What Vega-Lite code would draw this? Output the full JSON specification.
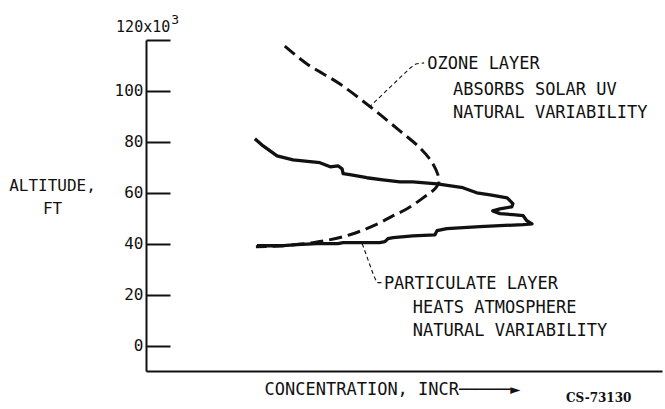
{
  "$schema": "https://vega.github.io/schema/vega-lite/v6.json",
  "width": 516,
  "height": 331,
  "padding": {"left": 146, "top": 40, "right": 3, "bottom": 38},
  "autosize": {"type": "none"},
  "background": "white",
  "config": {"view": {"stroke": null}, "axis": {"domainColor": "#111", "tickColor": "#111", "labelColor": "#111", "titleColor": "#111"}},
  "datasets": {
    "particulate": [
      {"i": 1, "conc": 21.1, "alt": 81.2}, {"i": 2, "conc": 22.7, "alt": 78.4}, {"i": 3, "conc": 25.4, "alt": 74.5},
      {"i": 4, "conc": 28.5, "alt": 72.9}, {"i": 5, "conc": 31.8, "alt": 72.2}, {"i": 6, "conc": 33.7, "alt": 71.8},
      {"i": 7, "conc": 34.7, "alt": 71.0}, {"i": 8, "conc": 35.7, "alt": 70.2}, {"i": 9, "conc": 37.2, "alt": 70.6},
      {"i": 10, "conc": 38.0, "alt": 69.4}, {"i": 11, "conc": 38.2, "alt": 67.5}, {"i": 12, "conc": 39.5, "alt": 67.1},
      {"i": 13, "conc": 42.8, "alt": 65.9}, {"i": 14, "conc": 45.9, "alt": 65.1}, {"i": 15, "conc": 49.2, "alt": 64.3},
      {"i": 16, "conc": 51.7, "alt": 64.3}, {"i": 17, "conc": 56.4, "alt": 63.5}, {"i": 18, "conc": 61.4, "alt": 62.0},
      {"i": 19, "conc": 64.1, "alt": 60.0}, {"i": 20, "conc": 66.7, "alt": 59.2}, {"i": 21, "conc": 70.0, "alt": 58.0},
      {"i": 22, "conc": 71.1, "alt": 55.7}, {"i": 23, "conc": 70.9, "alt": 54.5}, {"i": 24, "conc": 68.6, "alt": 53.7},
      {"i": 25, "conc": 67.2, "alt": 52.9}, {"i": 26, "conc": 68.6, "alt": 51.8}, {"i": 27, "conc": 71.1, "alt": 51.4},
      {"i": 28, "conc": 73.1, "alt": 51.0}, {"i": 29, "conc": 73.8, "alt": 49.0}, {"i": 30, "conc": 74.8, "alt": 47.8},
      {"i": 31, "conc": 73.1, "alt": 47.5}, {"i": 32, "conc": 64.7, "alt": 46.7}, {"i": 33, "conc": 58.3, "alt": 45.9},
      {"i": 34, "conc": 56.4, "alt": 45.1}, {"i": 35, "conc": 56.0, "alt": 43.5}, {"i": 36, "conc": 51.7, "alt": 43.1},
      {"i": 37, "conc": 47.9, "alt": 42.4}, {"i": 38, "conc": 46.9, "alt": 42.0}, {"i": 39, "conc": 46.3, "alt": 40.8},
      {"i": 40, "conc": 45.3, "alt": 40.4}, {"i": 41, "conc": 38.2, "alt": 40.4}, {"i": 42, "conc": 37.2, "alt": 40.0},
      {"i": 43, "conc": 33.1, "alt": 40.0}, {"i": 44, "conc": 29.3, "alt": 39.6}, {"i": 45, "conc": 26.6, "alt": 39.2},
      {"i": 46, "conc": 21.5, "alt": 39.2}
    ],
    "ozone": [
      {"i": 1, "conc": 26.9, "alt": 117.6}, {"i": 2, "conc": 31.2, "alt": 110.6}, {"i": 3, "conc": 37.6, "alt": 102.7},
      {"i": 4, "conc": 44.0, "alt": 92.9}, {"i": 5, "conc": 49.2, "alt": 84.3}, {"i": 6, "conc": 53.1, "alt": 77.6},
      {"i": 7, "conc": 55.6, "alt": 71.4}, {"i": 8, "conc": 56.8, "alt": 64.7}, {"i": 9, "conc": 56.2, "alt": 62.0},
      {"i": 10, "conc": 53.7, "alt": 58.0}, {"i": 11, "conc": 50.6, "alt": 53.7}, {"i": 12, "conc": 47.9, "alt": 51.0},
      {"i": 13, "conc": 45.3, "alt": 48.2}, {"i": 14, "conc": 39.5, "alt": 43.5}, {"i": 15, "conc": 32.4, "alt": 40.4},
      {"i": 16, "conc": 26.0, "alt": 39.2}, {"i": 17, "conc": 21.3, "alt": 38.8}
    ],
    "leaders": [
      {"g": "ozone", "i": 1, "conc": 43.2, "alt": 93.5}, {"g": "ozone", "i": 2, "conc": 51.2, "alt": 109.0},
      {"g": "ozone", "i": 3, "conc": 52.3, "alt": 110.6}, {"g": "ozone", "i": 4, "conc": 53.9, "alt": 111.0},
      {"g": "part", "i": 1, "conc": 41.9, "alt": 40.0}, {"g": "part", "i": 2, "conc": 44.2, "alt": 27.1},
      {"g": "part", "i": 3, "conc": 44.8, "alt": 24.7}, {"g": "part", "i": 4, "conc": 45.7, "alt": 24.7}
    ],
    "notes": [
      {"conc": 54.5, "alt": 110.6, "text": "OZONE LAYER"},
      {"conc": 59.5, "alt": 100.4, "text": "ABSORBS SOLAR UV"},
      {"conc": 59.5, "alt": 91.4, "text": "NATURAL VARIABILITY"},
      {"conc": 46.1, "alt": 24.3, "text": "PARTICULATE LAYER"},
      {"conc": 51.7, "alt": 14.9, "text": "HEATS ATMOSPHERE"},
      {"conc": 51.7, "alt": 5.9, "text": "NATURAL VARIABILITY"}
    ],
    "top": [
      {"conc": 4.7, "alt": 120, "text": "120x10", "part": "base"},
      {"conc": 4.7, "alt": 120, "text": "3", "part": "sup"}
    ],
    "stamp": [
      {"conc": 81.4, "alt": -10, "text": "CS-73130"}
    ]
  },
  "layer": [
    {
      "data": {"name": "particulate"},
      "mark": {"type": "line", "color": "#111", "strokeWidth": 3.3, "strokeJoin": "round"},
      "encoding": {
        "x": {"field": "conc", "type": "quantitative", "scale": {"domain": [0, 100], "nice": false, "zero": false},
          "axis": {"ticks": false, "labels": false, "grid": false, "domainWidth": 2,
            "title": "CONCENTRATION, INCR─────►", "titleFont": "DejaVu Sans Mono", "titleFontSize": 17, "titleFontWeight": "normal",
            "titleX": 246, "titleY": 18, "titleAlign": "center", "titleBaseline": "middle", "titleAnchor": "start"}},
        "y": {"field": "alt", "type": "quantitative", "scale": {"domain": [-10, 120], "nice": false, "zero": false},
          "axis": {"values": [0, 20, 40, 60, 80, 100, 120], "labelExpr": "datum.value == 120 ? '' : datum.label",
            "grid": false, "tickSize": -24, "tickWidth": 2, "domainWidth": 2, "labelPadding": 27,
            "labelFont": "DejaVu Sans Mono", "labelFontSize": 16,
            "title": ["ALTITUDE,", "FT"], "titleAngle": 0, "titleX": -94, "titleY": 150, "titleAlign": "center",
            "titleBaseline": "alphabetic", "titleFont": "DejaVu Sans Mono", "titleFontSize": 16, "titleFontWeight": "normal",
            "titleLineHeight": 23, "titleAnchor": "start"}},
        "order": {"field": "i", "type": "quantitative"}
      }
    },
    {
      "data": {"name": "ozone"},
      "mark": {"type": "line", "color": "#111", "strokeWidth": 3, "strokeDash": [13, 6], "interpolate": "catmull-rom"},
      "encoding": {
        "x": {"field": "conc", "type": "quantitative"},
        "y": {"field": "alt", "type": "quantitative"},
        "order": {"field": "i", "type": "quantitative"}
      }
    },
    {
      "data": {"name": "leaders"},
      "mark": {"type": "line", "color": "#111", "strokeWidth": 1.1, "strokeDash": [4, 3]},
      "encoding": {
        "x": {"field": "conc", "type": "quantitative"},
        "y": {"field": "alt", "type": "quantitative"},
        "detail": {"field": "g"},
        "order": {"field": "i", "type": "quantitative"}
      }
    },
    {
      "data": {"name": "notes"},
      "mark": {"type": "text", "align": "left", "baseline": "middle", "font": "DejaVu Sans Mono", "fontSize": 17, "color": "#111"},
      "encoding": {
        "x": {"field": "conc", "type": "quantitative"},
        "y": {"field": "alt", "type": "quantitative"},
        "text": {"field": "text"}
      }
    },
    {
      "data": {"name": "top"},
      "transform": [{"filter": "datum.part == 'base'"}],
      "mark": {"type": "text", "align": "right", "baseline": "alphabetic", "dy": -8, "font": "DejaVu Sans Mono", "fontSize": 15, "color": "#111"},
      "encoding": {
        "x": {"field": "conc", "type": "quantitative"},
        "y": {"field": "alt", "type": "quantitative"},
        "text": {"field": "text"}
      }
    },
    {
      "data": {"name": "top"},
      "transform": [{"filter": "datum.part == 'sup'"}],
      "mark": {"type": "text", "align": "left", "baseline": "alphabetic", "dx": 1, "dy": -16, "font": "DejaVu Sans Mono", "fontSize": 13, "color": "#111"},
      "encoding": {
        "x": {"field": "conc", "type": "quantitative"},
        "y": {"field": "alt", "type": "quantitative"},
        "text": {"field": "text"}
      }
    },
    {
      "data": {"name": "stamp"},
      "mark": {"type": "text", "align": "left", "baseline": "middle", "dy": 27, "font": "DejaVu Serif", "fontSize": 12, "fontWeight": "bold", "color": "#111"},
      "encoding": {
        "x": {"field": "conc", "type": "quantitative"},
        "y": {"field": "alt", "type": "quantitative"},
        "text": {"field": "text"}
      }
    }
  ]
}
